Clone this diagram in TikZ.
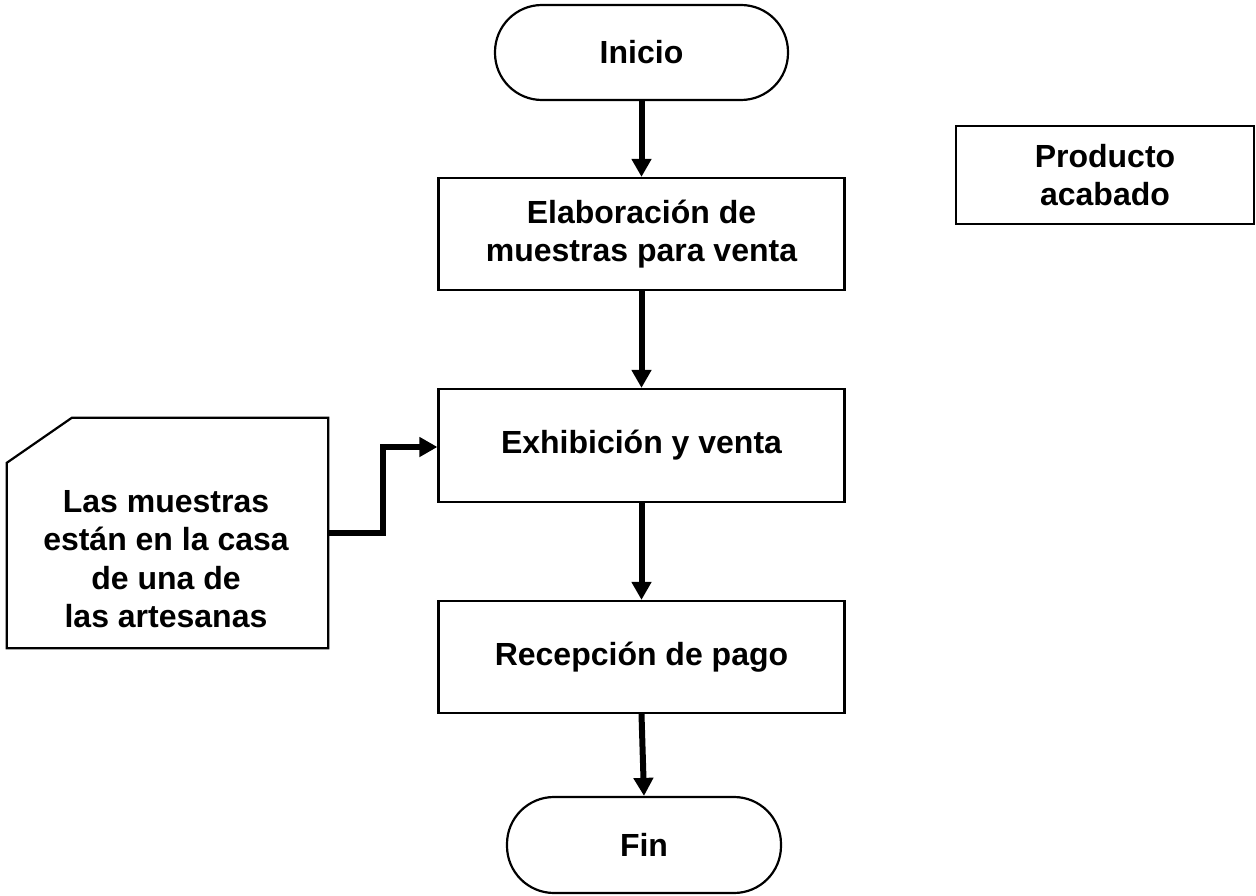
\documentclass[tikz,border=0pt]{standalone}
\usepackage{fontspec}
\setmainfont{Liberation Sans}
\usetikzlibrary{arrows.meta}
\tikzset{
  box/.style={draw, line width=2.2pt, align=center, inner sep=0pt},
  term/.style={box, rounded corners=47pt},
  arr/.style={line width=6pt, -{Triangle[width=19pt,length=18pt]}},
}
\begin{document}
\begin{tikzpicture}[x=1pt, y=-1pt, font=\fontsize{32}{38.3}\selectfont\bfseries]
\useasboundingbox (0,0) rectangle (1256,896);
\node[term, minimum width=293pt, minimum height=95pt] (inicio) at (641.5,52.5) {Inicio};
\node[box, minimum width=406pt, minimum height=112pt] (elab) at (641.5,234) {Elaboración de\\muestras para venta};
\node[box, minimum width=406pt, minimum height=113pt] (exhib) at (641.5,445.5) {Exhibición y venta};
\node[box, minimum width=406pt, minimum height=112pt] (recep) at (641.5,657) {Recepción de pago};
\node[term, minimum width=274pt, minimum height=96pt] (fin) at (644,845) {Fin};
\node[box, minimum width=298pt, minimum height=98pt] (prod) at (1105,175) {Producto\\acabado};
% card shape
\node[minimum width=321pt, minimum height=230pt, inner sep=0pt] (cardbox) at (167.5,533) {};
\draw[line width=2.2pt] (cardbox.north west) ++(0,45) -- ++(65,-45) -- (cardbox.north east) -- (cardbox.south east) -- (cardbox.south west) -- cycle;
\node[align=center, inner sep=0pt] (cardtext) at (166,559) {Las muestras\\están en la casa\\de una de\\las artesanas};
% connectors
\draw[arr] (inicio.south) -- (elab.north);
\draw[arr] (elab.south) -- (exhib.north);
\draw[arr] (exhib.south) -- (recep.north);
\draw[arr] (recep.south) -- (fin.north);
\draw[arr] (cardbox.east) -- ++(55,0) |- ([yshift=-1.5pt]exhib.west);
\end{tikzpicture}
\end{document}
